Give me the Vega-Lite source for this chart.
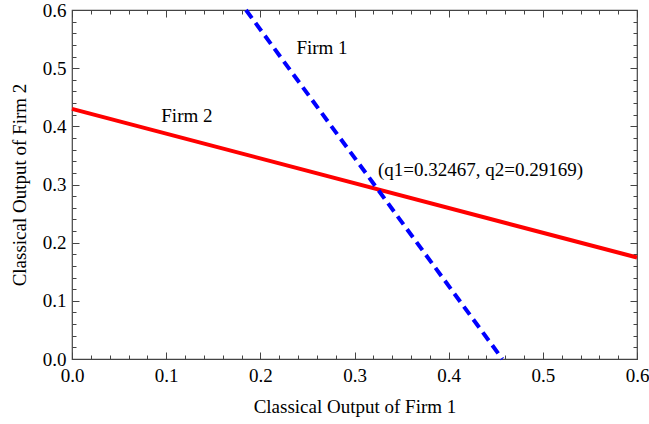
{
  "$schema": "https://vega.github.io/schema/vega-lite/v6.json",
  "width": 565,
  "height": 349,
  "autosize": {"type": "none"},
  "padding": {"left": 72, "top": 10, "right": 12, "bottom": 65},
  "background": "white",
  "config": {
    "view": {"stroke": "#444", "strokeWidth": 1.2},
    "axis": {
      "grid": false,
      "domain": false,
      "tickColor": "#444",
      "tickWidth": 1,
      "labelFont": "Liberation Serif",
      "labelFontSize": 19,
      "labelColor": "black",
      "labelFlush": false,
      "labelOverlap": false,
      "titleFont": "Liberation Serif",
      "titleFontSize": 19,
      "titleFontWeight": "normal",
      "titleColor": "black"
    },
    "text": {"font": "Liberation Serif", "fontSize": 19}
  },
  "datasets": {
    "firm2": [
      {"q1": 0.0, "q2": 0.43},
      {"q1": 0.6, "q2": 0.1744}
    ],
    "firm1": [
      {"q1": 0.1848, "q2": 0.6},
      {"q1": 0.457, "q2": 0.0}
    ],
    "labels": [
      {"q1": 0.2655, "q2": 0.535, "label": "Firm 1"},
      {"q1": 0.122, "q2": 0.418, "label": "Firm 2"}
    ],
    "eq": [
      {"q1": 0.325, "q2": 0.325, "label": "(q1=0.32467, q2=0.29169)"}
    ]
  },
  "resolve": {
    "scale": {"x": "shared", "y": "shared"},
    "axis": {"x": "independent", "y": "independent"}
  },
  "layer": [
    {
      "data": {"name": "firm2"},
      "mark": {"type": "line", "color": "#ff0000", "strokeWidth": 4},
      "encoding": {
        "x": {
          "field": "q1", "type": "quantitative",
          "scale": {"domain": [0, 0.6], "nice": false, "zero": false},
          "axis": {
            "orient": "bottom",
            "values": [0, 0.1, 0.2, 0.3, 0.4, 0.5, 0.6],
            "format": ".1f",
            "tickSize": -7,
            "labelPadding": 14,
            "title": "Classical Output of Firm 1",
            "titlePadding": 12
          }
        },
        "y": {
          "field": "q2", "type": "quantitative",
          "scale": {"domain": [0, 0.6], "nice": false, "zero": false},
          "axis": {
            "orient": "left",
            "values": [0, 0.1, 0.2, 0.3, 0.4, 0.5, 0.6],
            "format": ".1f",
            "tickSize": -7,
            "labelPadding": 13,
            "labelBaseline": "middle",
            "title": "Classical Output of Firm 2",
            "titlePadding": 13
          }
        }
      }
    },
    {
      "data": {"name": "firm1"},
      "mark": {"type": "line", "color": "#0000ff", "strokeWidth": 4, "strokeDash": [10, 6]},
      "encoding": {
        "x": {
          "field": "q1", "type": "quantitative",
          "axis": {
            "orient": "top",
            "values": [0, 0.1, 0.2, 0.3, 0.4, 0.5, 0.6],
            "tickSize": -7,
            "labels": false,
            "title": null
          }
        },
        "y": {
          "field": "q2", "type": "quantitative",
          "axis": {
            "orient": "right",
            "values": [0, 0.1, 0.2, 0.3, 0.4, 0.5, 0.6],
            "tickSize": -7,
            "labels": false,
            "title": null
          }
        }
      }
    },
    {
      "data": {"name": "labels"},
      "mark": {"type": "text", "align": "center", "baseline": "middle", "color": "black"},
      "encoding": {
        "x": {
          "field": "q1", "type": "quantitative",
          "axis": {
            "orient": "bottom",
            "values": [0.02, 0.04, 0.06, 0.08, 0.12, 0.14, 0.16, 0.18, 0.22, 0.24, 0.26, 0.28, 0.32, 0.34, 0.36, 0.38, 0.42, 0.44, 0.46, 0.48, 0.52, 0.54, 0.56, 0.58],
            "tickSize": -4,
            "labels": false,
            "title": null
          }
        },
        "y": {
          "field": "q2", "type": "quantitative",
          "axis": {
            "orient": "left",
            "values": [0.02, 0.04, 0.06, 0.08, 0.12, 0.14, 0.16, 0.18, 0.22, 0.24, 0.26, 0.28, 0.32, 0.34, 0.36, 0.38, 0.42, 0.44, 0.46, 0.48, 0.52, 0.54, 0.56, 0.58],
            "tickSize": -4,
            "labels": false,
            "title": null
          }
        },
        "text": {"field": "label", "type": "nominal"}
      }
    },
    {
      "data": {"name": "eq"},
      "mark": {"type": "text", "align": "left", "baseline": "middle", "color": "black"},
      "encoding": {
        "x": {
          "field": "q1", "type": "quantitative",
          "axis": {
            "orient": "top",
            "values": [0.02, 0.04, 0.06, 0.08, 0.12, 0.14, 0.16, 0.18, 0.22, 0.24, 0.26, 0.28, 0.32, 0.34, 0.36, 0.38, 0.42, 0.44, 0.46, 0.48, 0.52, 0.54, 0.56, 0.58],
            "tickSize": -4,
            "labels": false,
            "title": null
          }
        },
        "y": {
          "field": "q2", "type": "quantitative",
          "axis": {
            "orient": "right",
            "values": [0.02, 0.04, 0.06, 0.08, 0.12, 0.14, 0.16, 0.18, 0.22, 0.24, 0.26, 0.28, 0.32, 0.34, 0.36, 0.38, 0.42, 0.44, 0.46, 0.48, 0.52, 0.54, 0.56, 0.58],
            "tickSize": -4,
            "labels": false,
            "title": null
          }
        },
        "text": {"field": "label", "type": "nominal"}
      }
    }
  ]
}
